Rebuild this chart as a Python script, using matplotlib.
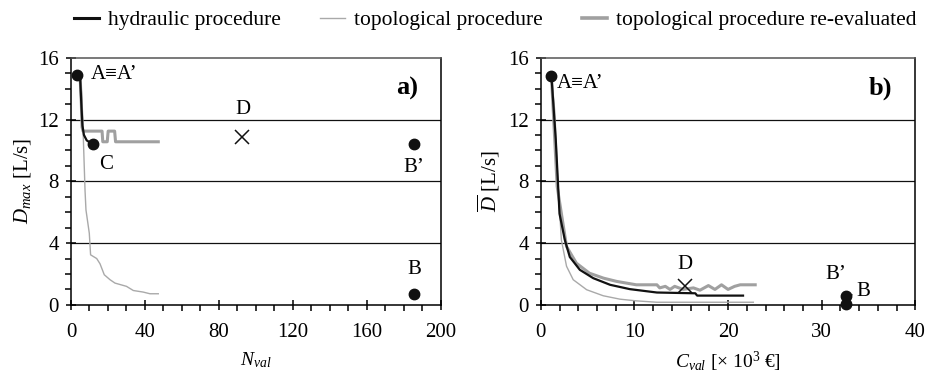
import matplotlib
matplotlib.use("Agg")
import matplotlib.pyplot as plt
from matplotlib.ticker import MultipleLocator

plt.rcParams['font.family'] = ['Liberation Serif', 'DejaVu Serif']
plt.rcParams['mathtext.fontset'] = 'custom'
plt.rcParams['mathtext.rm'] = 'Liberation Serif'
plt.rcParams['mathtext.it'] = 'Liberation Serif:italic'
plt.rcParams['font.size'] = 15

# ---- panel a) N_val vs D_max ----
a_topo_x = [3.4, 5.0, 5.8, 6.7, 7.6, 8.1, 9.9, 10.6, 13.9, 15.7, 18.0, 21.1, 23.8, 30.0, 33.7, 39.0, 42.7, 47.2]
a_topo_y = [14.9, 14.6, 13.7, 10.7, 7.4, 6.15, 4.64, 3.24, 3.0, 2.66, 1.95, 1.63, 1.41, 1.2, 0.93, 0.83, 0.72, 0.72]
a_reev_x = [3.4, 5.0, 5.6, 6.0, 6.5, 16.8, 17.2, 19.6, 20.1, 23.6, 24.1, 47.2]
a_reev_y = [14.9, 14.6, 13.0, 11.5, 11.25, 11.25, 10.56, 10.56, 11.25, 11.25, 10.56, 10.56]
a_hyd_x = [3.4, 5.0, 5.6, 6.2, 7.0, 8.5, 11.7]
a_hyd_y = [14.9, 14.6, 13.0, 11.6, 11.0, 10.65, 10.4]
a_pts_x = [3.4, 11.7, 185.7, 185.7]     # A, C, B', B
a_pts_y = [14.9, 10.4, 10.4, 0.7]
a_cross = (92.5, 10.9)                  # D

# ---- panel b) C_val vs mean D ----
b_topo_x = [1.14, 1.5, 1.85, 2.2, 2.75, 3.46, 4.9, 6.67, 8.45, 10.2, 12.4, 22.7]
b_topo_y = [14.8, 12.5, 7.66, 4.2, 2.5, 1.63, 0.98, 0.59, 0.37, 0.26, 0.17, 0.17]
b_hyd_x = [1.14, 1.6, 2.0, 2.57, 3.1, 4.17, 5.6, 7.4, 9.5, 12.4, 16.5, 16.7, 21.6]
b_hyd_y = [14.8, 10.7, 5.9, 4.2, 3.1, 2.27, 1.73, 1.3, 1.02, 0.8, 0.75, 0.6, 0.6]
b_reev_x = [1.14, 1.75, 2.75, 3.8, 5.2, 6.7, 8.1, 10.2, 12.4, 12.7, 13.3, 13.8, 14.3, 15.2, 16.3,
            17.0, 17.9, 18.6, 19.3, 20.0, 20.7, 21.3, 22.9]
b_reev_y = [14.8, 7.66, 3.78, 2.7, 2.05, 1.73, 1.52, 1.3, 1.3, 1.1, 1.2, 1.0, 1.2, 1.0, 1.1,
            0.95, 1.25, 1.0, 1.3, 1.0, 1.2, 1.3, 1.3]
b_pts_x = [1.14, 32.6, 32.6]            # A, B', B
b_pts_y = [14.8, 0.55, 0.08]
b_cross = (15.4, 1.2)                   # D

black = "#111111"
thin_gray = "#a9a9a9"
thick_gray = "#a0a0a0"

fig = plt.figure(figsize=(9.34, 3.75), dpi=100)
ax1 = fig.add_axes([0.076, 0.187, 0.396, 0.659])
ax2 = fig.add_axes([0.579, 0.187, 0.401, 0.659])

# axes, ticks and grid
for ax, xmax, xmaj, xmin in ((ax1, 200, 40, 10), (ax2, 40, 10, 2)):
    ax.set_ylim(0, 16)
    ax.set_xlim(0, xmax)
    ax.yaxis.set_major_locator(MultipleLocator(4))
    ax.yaxis.set_minor_locator(MultipleLocator(1))
    ax.xaxis.set_major_locator(MultipleLocator(xmaj))
    ax.xaxis.set_minor_locator(MultipleLocator(xmin))
    ax.tick_params(which='major', direction='inout', length=7.5, width=1.1, pad=5,
                   labelsize=15, color='k')
    ax.tick_params(which='minor', direction='out', length=4, width=1.1, color='k')
    ax.tick_params(axis='x', which='major', pad=9)
    for y in (4, 8, 12):
        ax.axhline(y, color=black, lw=0.9, zorder=0)
    for s in ax.spines.values():
        s.set_linewidth(1.1)
    ax.spines['top'].set_edgecolor('#555555')

# panel a
ax1.plot(a_topo_x, a_topo_y, color=thin_gray, lw=1.0, zorder=2)
ax1.plot(a_reev_x, a_reev_y, color=thick_gray, lw=2.2, zorder=3)
ax1.plot(a_hyd_x, a_hyd_y, color=black, lw=1.6, zorder=4)
ax1.plot(a_pts_x, a_pts_y, 'o', ls='none', color=black, ms=7.5, zorder=5)
ax1.plot([a_cross[0]], [a_cross[1]], 'x', ls='none', color=black, ms=10, mew=1.1, zorder=5)
ax1.text(10.8, 14.9, "A≡A’", ha='left', va='center', fontsize=15)
ax1.text(18.9, 9.1, "C", ha='center', va='center', fontsize=15)
ax1.text(93, 12.67, "D", ha='center', va='center', fontsize=15)
ax1.text(185.6, 8.9, "B’", ha='center', va='center', fontsize=15)
ax1.text(185.6, 2.26, "B", ha='center', va='center', fontsize=15)
ax1.text(181.8, 14.0, "a)", ha='center', va='center', fontsize=19, fontweight='bold')
ax1.set_xlabel(r"$N_{val}$", fontsize=14, labelpad=6)
ax1.set_ylabel(r"$D_{max}$ [L/s]", fontsize=15, labelpad=4)

# panel b
ax2.plot(b_topo_x, b_topo_y, color=thin_gray, lw=1.0, zorder=2)
ax2.plot(b_reev_x, b_reev_y, color=thick_gray, lw=2.2, zorder=3)
ax2.plot(b_hyd_x, b_hyd_y, color=black, lw=1.6, zorder=4)
ax2.plot(b_pts_x, b_pts_y, 'o', ls='none', color=black, ms=7.5, zorder=5, clip_on=False)
ax2.plot([b_cross[0]], [b_cross[1]], 'x', ls='none', color=black, ms=10, mew=1.1, zorder=5)
ax2.text(1.7, 14.35, "A≡A’", ha='left', va='center', fontsize=15)
ax2.text(15.4, 2.59, "D", ha='center', va='center', fontsize=15)
ax2.text(36.3, 14.0, "b)", ha='center', va='center', fontsize=19, fontweight='bold')
ax2.annotate("B’", xy=(b_pts_x[1], b_pts_y[1]), xytext=(31.5, 1.94), ha='center', va='center',
             fontsize=15, arrowprops=dict(arrowstyle='-', color=black, lw=0.8, shrinkA=4, shrinkB=3))
ax2.annotate("B", xy=(b_pts_x[1], b_pts_y[1]), xytext=(33.7, 0.84), ha='left', va='center',
             fontsize=15, arrowprops=dict(arrowstyle='-', color=black, lw=0.8, shrinkA=1, shrinkB=3))
ax2.set_xlabel(r"$C_{val}$ [× 10$^3$ €]", fontsize=14, labelpad=6)
ax2.set_ylabel(r"$\overline{D}$ [L/s]", fontsize=15, labelpad=4)

# legend
h1, = ax1.plot([], [], color=black, lw=2.2)
h2, = ax1.plot([], [], color=thin_gray, lw=1.0)
h3, = ax1.plot([], [], color=thick_gray, lw=2.6)
fig.legend([h1, h2, h3],
           ["hydraulic procedure", "topological procedure", "topological procedure re-evaluated"],
           loc='upper center', bbox_to_anchor=(0.53, 1.025), ncol=3, frameon=False,
           fontsize=15.5, handlelength=1.2, handletextpad=0.4, columnspacing=1.8)

fig.savefig("out.png", dpi=100)
